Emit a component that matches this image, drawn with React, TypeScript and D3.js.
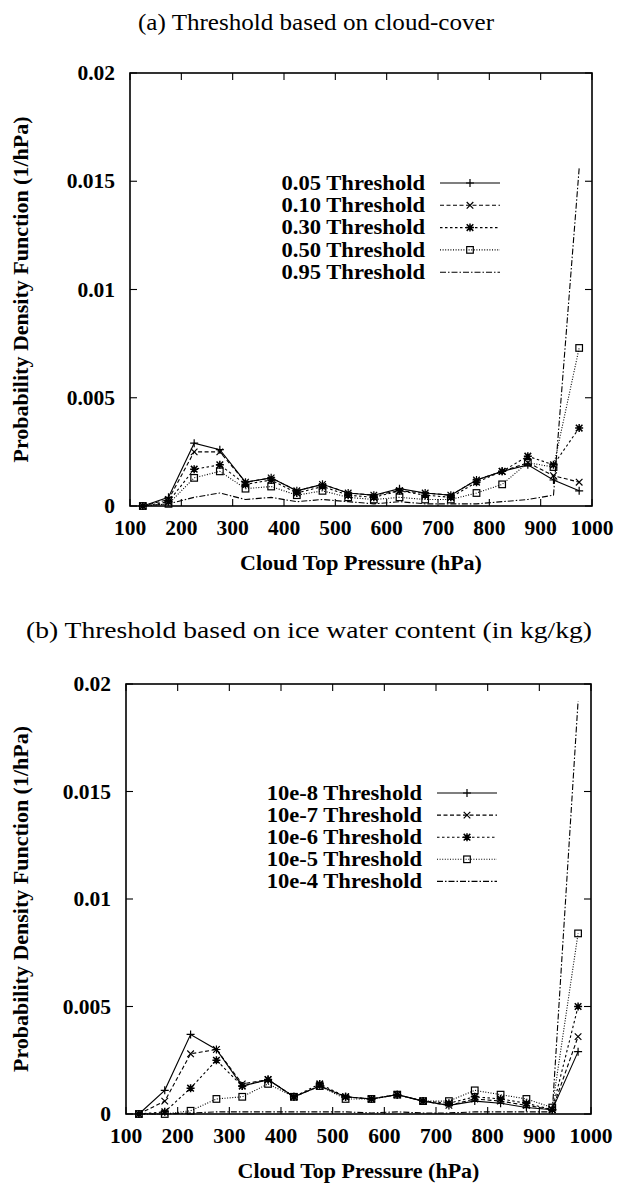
import React from "react";
import * as d3 from "d3";

const pressures = [125, 175, 225, 275, 325, 375, 425, 475, 525, 575, 625, 675, 725, 775, 825, 875, 925, 975];
const xTickValues = [100, 200, 300, 400, 500, 600, 700, 800, 900, 1000];
const yTickValues = [0, 0.005, 0.01, 0.015, 0.02];
const yTickLabels = ["0", "0.005", "0.01", "0.015", "0.02"];

const cloudTitle = "(a) Threshold based on cloud-cover";
const cloudNames = ["0.05 Threshold", "0.10 Threshold", "0.30 Threshold", "0.50 Threshold", "0.95 Threshold"];
const cloud005 = [0, 0.0004, 0.0029, 0.0026, 0.0011, 0.0013, 0.0007, 0.001, 0.0006, 0.0005, 0.0008, 0.0006, 0.0005, 0.0012, 0.0016, 0.0019, 0.0012, 0.0007];
const cloud010 = [0, 0.0003, 0.0025, 0.0025, 0.0011, 0.0013, 0.0007, 0.001, 0.0006, 0.0005, 0.0007, 0.0006, 0.0005, 0.0012, 0.0016, 0.002, 0.0014, 0.0011];
const cloud030 = [0, 0.0002, 0.0017, 0.0019, 0.001, 0.0012, 0.0006, 0.0009, 0.0005, 0.0004, 0.0007, 0.0005, 0.0004, 0.0011, 0.0016, 0.0023, 0.0019, 0.0036];
const cloud050 = [0, 0.0001, 0.0013, 0.0016, 0.0008, 0.0009, 0.0005, 0.0007, 0.0004, 0.0003, 0.0004, 0.0003, 0.0003, 0.0006, 0.001, 0.002, 0.0018, 0.0073];
const cloud095 = [0, 0.0001, 0.0004, 0.0006, 0.0003, 0.0004, 0.0002, 0.0003, 0.0002, 0.0001, 0.0002, 0.0001, 0.0001, 0.0001, 0.0002, 0.0003, 0.0005, 0.0156];

const iceTitle = "(b) Threshold based on ice water content (in kg/kg)";
const iceNames = ["10e-8 Threshold", "10e-7 Threshold", "10e-6 Threshold", "10e-5 Threshold", "10e-4 Threshold"];
const ice1e8 = [0, 0.0011, 0.0037, 0.003, 0.0013, 0.0016, 0.0008, 0.0013, 0.0008, 0.0007, 0.0009, 0.0006, 0.0004, 0.0006, 0.0005, 0.0003, 0.0002, 0.0029];
const ice1e7 = [0, 0.0006, 0.0028, 0.003, 0.0014, 0.0016, 0.0008, 0.0013, 0.0008, 0.0007, 0.0009, 0.0006, 0.0004, 0.0007, 0.0006, 0.0004, 0.0002, 0.0036];
const ice1e6 = [0, 0.0001, 0.0012, 0.0025, 0.0013, 0.0016, 0.0008, 0.0014, 0.0008, 0.0007, 0.0009, 0.0006, 0.0005, 0.0008, 0.0007, 0.0005, 0.0002, 0.005];
const ice1e5 = [0, 0.0, 0.00015, 0.0007, 0.0008, 0.0014, 0.0008, 0.0013, 0.0007, 0.0007, 0.0009, 0.0006, 0.0006, 0.0011, 0.0009, 0.0007, 0.0003, 0.0084];
const ice1e4 = [0, 0.0, 0.00005, 0.0001, 0.0001, 0.0001, 0.0001, 0.0001, 0.0001, 0.00005, 0.0001, 0.00005, 0.00005, 0.0001, 0.0001, 0.0001, 0.0001, 0.0192];

const xAxisTitle = "Cloud Top Pressure (hPa)";
const yAxisTitle = "Probability Density Function (1/hPa)";

const styles = [
  { dash: "none", marker: "plus" },
  { dash: "4,2.5", marker: "cross" },
  { dash: "2.5,2.5", marker: "star" },
  { dash: "1,1.6", marker: "square" },
  { dash: "6,2,1.5,2", marker: "none" },
];

const SERIF = "'Liberation Serif', 'Times New Roman', serif";

function Marker({ type, x, y }: { type: string; x: number; y: number }) {
  const s = 4;
  const c = 3.3;
  const common = { stroke: "#000", strokeWidth: 1.2, fill: "none" } as any;
  if (type === "plus")
    return <path d={`M${x - s},${y}H${x + s}M${x},${y - s}V${y + s}`} {...common} />;
  if (type === "cross")
    return <path d={`M${x - c},${y - c}L${x + c},${y + c}M${x - c},${y + c}L${x + c},${y - c}`} {...common} />;
  if (type === "star")
    return (
      <path
        d={`M${x - s},${y}H${x + s}M${x},${y - s}V${y + s}M${x - c},${y - c}L${x + c},${y + c}M${x - c},${y + c}L${x + c},${y - c}`}
        {...common}
        strokeWidth={1.5}
      />
    );
  if (type === "square") return <rect x={x - 3.3} y={y - 3.3} width={6.6} height={6.6} {...common} />;
  return null;
}

type PanelProps = {
  top: number;
  bottom: number;
  left: number;
  right: number;
  titleY: number;
  titleX: number;
  titleLen: number;
  title: string;
  names: string[];
  series: number[][];
  legendTextRight: number;
  legendLine: [number, number];
  legendY0: number;
  legendStep: number;
};

function Panel(p: PanelProps) {
  const x = d3.scaleLinear().domain([100, 1000]).range([p.left, p.right]);
  const y = d3.scaleLinear().domain([0, 0.02]).range([p.bottom, p.top]);
  const line = d3
    .line<number>()
    .x((_, i) => x(pressures[i]))
    .y((d) => y(d));
  const tick = 7;
  const midX = (p.left + p.right) / 2;
  const midY = (p.top + p.bottom) / 2;
  return (
    <g>
      <text
        x={p.titleX - p.titleLen / 2}
        y={p.titleY}
        dominantBaseline="central"
        fontFamily={SERIF}
        fontSize={24}
        textLength={p.titleLen}
        lengthAdjust="spacingAndGlyphs"
      >
        {p.title}
      </text>
      {xTickValues.map((v) => (
        <g key={"xt" + v}>
          <line x1={x(v)} x2={x(v)} y1={p.bottom} y2={p.bottom - tick} stroke="#000" strokeWidth={1.1} />
          <line x1={x(v)} x2={x(v)} y1={p.top} y2={p.top + tick} stroke="#000" strokeWidth={1.1} />
          <text
            x={x(v)}
            y={p.bottom + 22}
            textAnchor="middle"
            dominantBaseline="central"
            fontFamily={SERIF}
            fontWeight="bold"
            fontSize={21.5}
          >
            {v}
          </text>
        </g>
      ))}
      {yTickValues.map((v, i) => (
        <g key={"yt" + v}>
          <line x1={p.left} x2={p.left + tick} y1={y(v)} y2={y(v)} stroke="#000" strokeWidth={1.1} />
          <line x1={p.right} x2={p.right - tick} y1={y(v)} y2={y(v)} stroke="#000" strokeWidth={1.1} />
          <text
            x={p.left - 15}
            y={y(v)}
            textAnchor="end"
            dominantBaseline="central"
            fontFamily={SERIF}
            fontWeight="bold"
            fontSize={21.5}
          >
            {yTickLabels[i]}
          </text>
        </g>
      ))}
      {p.series.map((s, si) => (
        <g key={"s" + si}>
          <path
            d={line(s) || ""}
            fill="none"
            stroke="#000"
            strokeWidth={1.1}
            strokeDasharray={styles[si].dash}
          />
          {s.map((v, i) => (
            <Marker key={i} type={styles[si].marker} x={x(pressures[i])} y={y(v)} />
          ))}
        </g>
      ))}
      {p.names.map((n, i) => {
        const ly = p.legendY0 + i * p.legendStep;
        return (
          <g key={"l" + i}>
            <g transform={`translate(${p.legendTextRight},${ly}) scale(1.075,1)`}>
              <text
                x={0}
                y={0}
                textAnchor="end"
                dominantBaseline="central"
                fontFamily={SERIF}
                fontWeight="bold"
                fontSize={21}
              >
                {n}
              </text>
            </g>
            <line
              x1={p.legendLine[0]}
              x2={p.legendLine[1]}
              y1={ly}
              y2={ly}
              stroke="#000"
              strokeWidth={1.1}
              strokeDasharray={styles[i].dash}
            />
            <Marker type={styles[i].marker} x={(p.legendLine[0] + p.legendLine[1]) / 2} y={ly} />
          </g>
        );
      })}
      <rect
        x={p.left}
        y={p.top}
        width={p.right - p.left}
        height={p.bottom - p.top}
        fill="none"
        stroke="#000"
        strokeWidth={1.6}
      />
      <text
        x={midX}
        y={p.bottom + 56}
        textAnchor="middle"
        dominantBaseline="central"
        fontFamily={SERIF}
        fontWeight="bold"
        fontSize={22}
      >
        {xAxisTitle}
      </text>
      <text
        transform={`translate(20,${midY}) rotate(-90)`}
        textAnchor="middle"
        dominantBaseline="central"
        fontFamily={SERIF}
        fontWeight="bold"
        fontSize={22}
      >
        {yAxisTitle}
      </text>
    </g>
  );
}

export default function App() {
  return (
    <svg
      width={619}
      height={1183}
      style={{ position: "absolute", left: 0, top: 0, background: "#fff" }}
    >
      <rect x={0} y={0} width={619} height={1183} fill="#fff" />
      <Panel
        top={73}
        bottom={506}
        left={130}
        right={592}
        titleY={22}
        titleX={316}
        titleLen={356}
        title={cloudTitle}
        names={cloudNames}
        series={[cloud005, cloud010, cloud030, cloud050, cloud095]}
        legendTextRight={425}
        legendLine={[440, 500]}
        legendY0={183}
        legendStep={22.3}
      />
      <Panel
        top={684}
        bottom={1114}
        left={126}
        right={591}
        titleY={630}
        titleX={309}
        titleLen={566}
        title={iceTitle}
        names={iceNames}
        series={[ice1e8, ice1e7, ice1e6, ice1e5, ice1e4]}
        legendTextRight={422}
        legendLine={[437, 497]}
        legendY0={793}
        legendStep={22.1}
      />
    </svg>
  );
}
